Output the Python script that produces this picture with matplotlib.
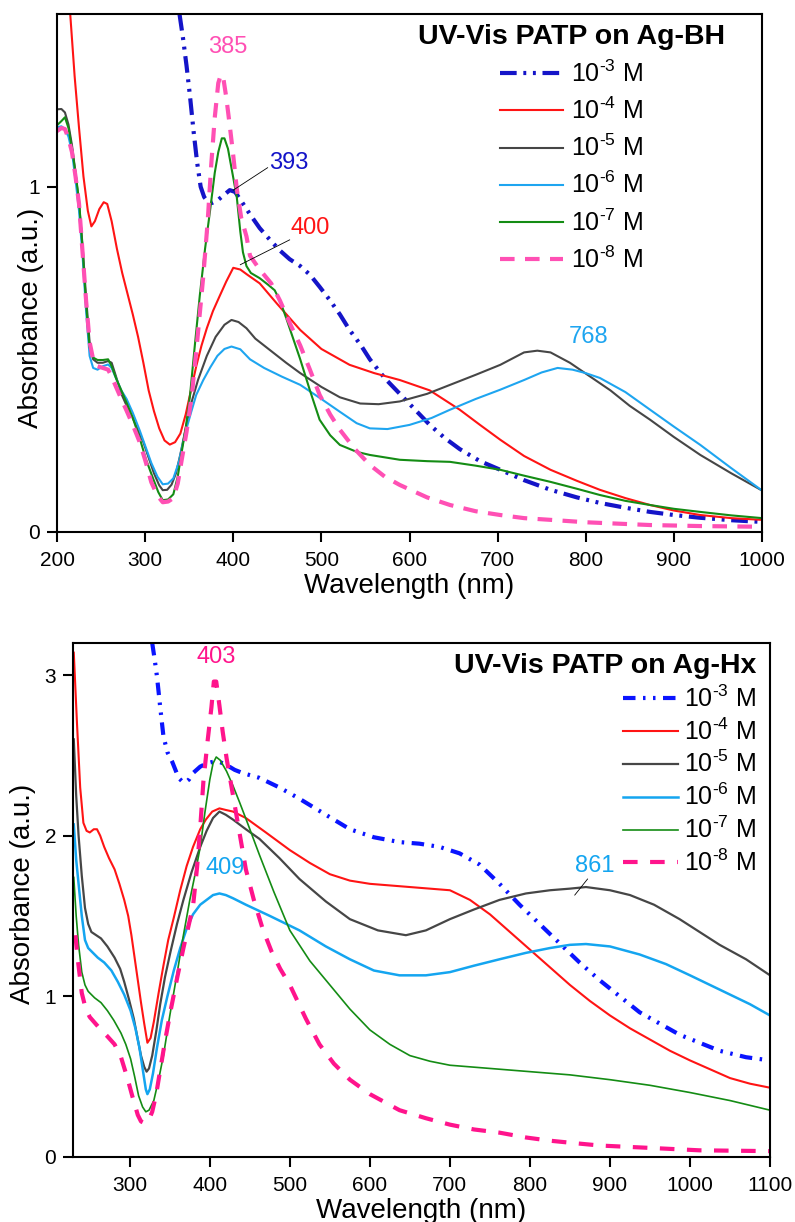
import matplotlib
matplotlib.use("Agg")
import matplotlib.pyplot as plt

plt.rcParams['font.family'] = ['Liberation Sans', 'DejaVu Sans']
plt.rcParams['mathtext.fontset'] = 'custom'
plt.rcParams['mathtext.rm'] = 'Liberation Sans'
plt.rcParams['mathtext.it'] = 'Liberation Sans'
plt.rcParams['mathtext.default'] = 'regular'

labels = ['10$^{\u20103}$ M', '10$^{\u20104}$ M', '10$^{\u20105}$ M',
          '10$^{\u20106}$ M', '10$^{\u20107}$ M', '10$^{\u20108}$ M']

# ---- Ag-BH (top panel), wavelength in nm / absorbance ----
bh_wl_3 = [339, 343, 347, 351, 355, 359, 363, 367, 371, 376, 382, 389, 396, 402, 410, 419, 430, 442, 453, 464, 476, 487, 498, 510, 521, 532, 545, 555, 572, 589, 606, 623, 640, 657, 680, 703, 730, 760, 790, 816, 845, 873, 900, 930, 965, 1000]
bh_ab_3 = [1.50, 1.43, 1.35, 1.26, 1.16, 1.07, 1.00, 0.97, 0.957, 0.953, 0.96, 0.975, 0.99, 0.985, 0.955, 0.92, 0.88, 0.845, 0.815, 0.79, 0.77, 0.745, 0.71, 0.67, 0.63, 0.585, 0.54, 0.50, 0.445, 0.40, 0.355, 0.31, 0.272, 0.24, 0.205, 0.18, 0.15, 0.122, 0.10, 0.084, 0.07, 0.058, 0.049, 0.041, 0.034, 0.029]

bh_wl_4 = [215, 220, 225, 230, 235, 239, 243, 248, 253, 257, 262, 268, 274, 280, 286, 292, 298, 304, 310, 316, 322, 328, 334, 340, 346, 352, 358, 364, 370, 377, 384, 392, 400, 408, 416, 430, 450, 476, 500, 532, 560, 589, 623, 657, 680, 703, 730, 760, 790, 816, 845, 873, 900, 930, 965, 1000]
bh_ab_4 = [1.50, 1.32, 1.17, 1.03, 0.93, 0.885, 0.90, 0.935, 0.955, 0.95, 0.90, 0.82, 0.75, 0.69, 0.63, 0.565, 0.49, 0.41, 0.35, 0.30, 0.265, 0.253, 0.26, 0.285, 0.34, 0.41, 0.48, 0.54, 0.59, 0.64, 0.68, 0.725, 0.765, 0.76, 0.745, 0.72, 0.66, 0.585, 0.53, 0.484, 0.46, 0.44, 0.41, 0.354, 0.31, 0.267, 0.22, 0.18, 0.148, 0.122, 0.098, 0.078, 0.062, 0.049, 0.04, 0.035]

bh_wl_5 = [200, 205, 209, 213, 217, 221, 225, 229, 233, 237, 241, 246, 252, 258, 262, 267, 273, 280, 286, 292, 298, 304, 310, 316, 320, 325, 330, 335, 340, 346, 352, 360, 370, 380, 390, 398, 406, 415, 425, 440, 460, 476, 500, 521, 544, 565, 589, 620, 646, 675, 703, 730, 745, 760, 782, 805, 828, 850, 873, 900, 930, 965, 1000]
bh_ab_5 = [1.224, 1.225, 1.215, 1.18, 1.12, 1.04, 0.95, 0.83, 0.68, 0.55, 0.50, 0.49, 0.49, 0.495, 0.49, 0.45, 0.40, 0.36, 0.33, 0.295, 0.26, 0.215, 0.17, 0.135, 0.121, 0.122, 0.137, 0.17, 0.225, 0.30, 0.37, 0.44, 0.51, 0.565, 0.60, 0.614, 0.608, 0.59, 0.56, 0.53, 0.49, 0.46, 0.42, 0.39, 0.372, 0.37, 0.378, 0.40, 0.426, 0.455, 0.484, 0.52, 0.525, 0.52, 0.49, 0.45, 0.41, 0.365, 0.325, 0.275, 0.223, 0.17, 0.12]

bh_wl_6 = [200, 205, 209, 213, 217, 221, 225, 229, 233, 237, 241, 246, 252, 258, 262, 267, 273, 279, 286, 294, 300, 307, 314, 320, 326, 332, 338, 345, 352, 358, 366, 374, 382, 390, 398, 408, 419, 435, 455, 476, 500, 521, 540, 555, 575, 600, 625, 646, 675, 703, 730, 750, 768, 785, 800, 816, 845, 873, 900, 930, 965, 1000]
bh_ab_6 = [1.172, 1.175, 1.167, 1.145, 1.10, 1.02, 0.93, 0.80, 0.64, 0.51, 0.475, 0.47, 0.48, 0.485, 0.475, 0.445, 0.41, 0.385, 0.345, 0.293, 0.25, 0.20, 0.16, 0.138, 0.14, 0.155, 0.20, 0.282, 0.345, 0.397, 0.44, 0.477, 0.51, 0.53, 0.537, 0.529, 0.50, 0.475, 0.45, 0.426, 0.385, 0.348, 0.315, 0.30, 0.298, 0.31, 0.33, 0.354, 0.385, 0.412, 0.44, 0.462, 0.475, 0.47, 0.46, 0.446, 0.405, 0.354, 0.305, 0.252, 0.185, 0.12]

bh_wl_7 = [200, 205, 209, 213, 217, 221, 225, 229, 233, 237, 241, 246, 252, 258, 262, 267, 273, 279, 286, 294, 301, 309, 315, 320, 326, 332, 337, 341, 346, 351, 356, 362, 368, 374, 379, 383, 387, 390, 394, 399, 404, 408, 411, 415, 420, 430, 440, 447, 453, 460, 468, 476, 487, 498, 510, 521, 540, 555, 589, 620, 646, 675, 703, 730, 760, 790, 816, 845, 873, 900, 930, 965, 1000]
bh_ab_7 = [1.178, 1.19, 1.201, 1.17, 1.11, 1.04, 0.96, 0.82, 0.66, 0.534, 0.505, 0.498, 0.498, 0.50, 0.48, 0.445, 0.41, 0.374, 0.33, 0.27, 0.21, 0.155, 0.115, 0.092, 0.094, 0.109, 0.16, 0.224, 0.30, 0.397, 0.53, 0.684, 0.82, 0.937, 1.04, 1.10, 1.14, 1.14, 1.11, 1.04, 0.97, 0.87, 0.81, 0.77, 0.75, 0.735, 0.715, 0.70, 0.67, 0.62, 0.56, 0.50, 0.41, 0.325, 0.28, 0.252, 0.232, 0.223, 0.209, 0.205, 0.203, 0.192, 0.18, 0.163, 0.145, 0.125, 0.107, 0.09, 0.078, 0.067, 0.058, 0.048, 0.04]

bh_wl_8 = [200, 205, 209, 213, 217, 221, 225, 229, 233, 237, 241, 246, 252, 258, 262, 267, 273, 279, 286, 294, 301, 307, 314, 320, 326, 332, 337, 341, 347, 353, 359, 366, 371, 375, 379, 383, 386, 389, 392, 396, 400, 404, 409, 415, 419, 430, 443, 453, 465, 476, 487, 498, 510, 521, 538, 555, 572, 589, 620, 646, 675, 703, 730, 760, 800, 873, 930, 1000]
bh_ab_8 = [1.161, 1.17, 1.167, 1.14, 1.10, 1.03, 0.95, 0.81, 0.67, 0.55, 0.50, 0.48, 0.475, 0.47, 0.45, 0.42, 0.385, 0.351, 0.31, 0.259, 0.20, 0.144, 0.105, 0.086, 0.088, 0.098, 0.14, 0.201, 0.29, 0.397, 0.55, 0.741, 0.90, 1.063, 1.20, 1.30, 1.325, 1.31, 1.26, 1.178, 1.09, 0.994, 0.91, 0.856, 0.80, 0.76, 0.72, 0.67, 0.60, 0.54, 0.47, 0.397, 0.34, 0.296, 0.24, 0.194, 0.16, 0.136, 0.10, 0.078, 0.06, 0.049, 0.04, 0.035, 0.028, 0.02, 0.017, 0.015]

# ---- Ag-Hx (bottom panel) ----
hx_wl_3 = [328, 331, 334, 338, 342, 347, 353, 361, 365, 369, 374, 379, 388, 396, 404, 412, 421, 431, 441, 462, 487, 512, 545, 575, 605, 637, 662, 687, 712, 737, 762, 787, 812, 837, 862, 887, 912, 937, 962, 987, 1012, 1037, 1070, 1100]
hx_ab_3 = [3.20, 3.10, 2.99, 2.80, 2.62, 2.52, 2.46, 2.36, 2.34, 2.33, 2.35, 2.39, 2.43, 2.45, 2.46, 2.46, 2.44, 2.41, 2.39, 2.36, 2.30, 2.23, 2.13, 2.04, 1.99, 1.96, 1.95, 1.93, 1.89, 1.82, 1.70, 1.57, 1.45, 1.33, 1.21, 1.10, 1.00, 0.90, 0.83, 0.76, 0.71, 0.66, 0.62, 0.60]

hx_wl_4 = [230, 234, 238, 242, 246, 250, 255, 259, 263, 268, 274, 281, 287, 293, 298, 302, 306, 310, 314, 318, 322, 326, 330, 336, 342, 348, 355, 363, 371, 379, 388, 395, 403, 412, 420, 429, 445, 470, 500, 525, 550, 575, 600, 650, 700, 725, 750, 775, 800, 825, 850, 875, 900, 925, 950, 975, 1000, 1025, 1050, 1075, 1100]
hx_ab_4 = [3.14, 2.70, 2.30, 2.08, 2.03, 2.02, 2.04, 2.04, 2.00, 1.93, 1.86, 1.79, 1.70, 1.60, 1.50, 1.38, 1.24, 1.10, 0.96, 0.83, 0.71, 0.74, 0.84, 1.02, 1.19, 1.35, 1.49, 1.66, 1.81, 1.93, 2.04, 2.10, 2.15, 2.17, 2.16, 2.15, 2.11, 2.02, 1.91, 1.83, 1.76, 1.72, 1.70, 1.68, 1.66, 1.60, 1.51, 1.40, 1.29, 1.18, 1.07, 0.97, 0.88, 0.80, 0.73, 0.66, 0.60, 0.545, 0.49, 0.455, 0.43]

hx_wl_5 = [230, 233, 236, 240, 244, 248, 252, 258, 264, 272, 281, 288, 293, 299, 305, 310, 314, 318, 321, 324, 328, 333, 338, 344, 351, 359, 367, 377, 388, 396, 404, 412, 420, 429, 445, 462, 487, 512, 545, 575, 610, 645, 670, 700, 730, 762, 795, 825, 850, 870, 900, 925, 955, 987, 1012, 1037, 1070, 1100]
hx_ab_5 = [2.60, 2.25, 2.00, 1.75, 1.55, 1.45, 1.40, 1.38, 1.36, 1.31, 1.24, 1.17, 1.09, 0.98, 0.86, 0.73, 0.63, 0.56, 0.53, 0.55, 0.63, 0.78, 0.95, 1.12, 1.28, 1.45, 1.60, 1.77, 1.93, 2.03, 2.11, 2.15, 2.13, 2.10, 2.04, 1.98, 1.86, 1.73, 1.59, 1.48, 1.41, 1.38, 1.41, 1.48, 1.54, 1.60, 1.64, 1.66, 1.67, 1.68, 1.66, 1.63, 1.57, 1.48, 1.40, 1.32, 1.23, 1.13]

hx_wl_6 = [230, 233, 236, 240, 244, 248, 252, 260, 268, 277, 285, 293, 301, 307, 312, 316, 320, 322, 325, 329, 334, 340, 347, 355, 363, 371, 379, 388, 396, 404, 412, 420, 429, 445, 475, 512, 545, 575, 605, 637, 670, 700, 730, 762, 795, 825, 850, 870, 900, 937, 970, 1000, 1025, 1050, 1075, 1100]
hx_ab_6 = [2.07, 1.85, 1.70, 1.50, 1.35, 1.30, 1.28, 1.24, 1.21, 1.16, 1.09, 1.01, 0.91, 0.80, 0.68, 0.55, 0.42, 0.39, 0.42, 0.52, 0.68, 0.85, 1.00, 1.16, 1.30, 1.42, 1.51, 1.57, 1.60, 1.63, 1.64, 1.63, 1.61, 1.57, 1.50, 1.41, 1.31, 1.23, 1.16, 1.13, 1.13, 1.15, 1.19, 1.23, 1.27, 1.30, 1.32, 1.325, 1.31, 1.26, 1.20, 1.13, 1.07, 1.01, 0.95, 0.88]

hx_wl_7 = [230, 233, 236, 240, 244, 248, 256, 264, 272, 280, 289, 295, 301, 306, 311, 316, 320, 324, 330, 336, 342, 350, 359, 367, 375, 382, 388, 394, 400, 404, 408, 413, 421, 429, 437, 447, 462, 480, 500, 525, 550, 575, 600, 625, 650, 675, 700, 750, 800, 850, 900, 950, 1000, 1050, 1100]
hx_ab_7 = [1.74, 1.50, 1.32, 1.15, 1.07, 1.03, 0.99, 0.96, 0.91, 0.85, 0.77, 0.70, 0.61, 0.50, 0.38, 0.31, 0.28, 0.29, 0.35, 0.48, 0.63, 0.88, 1.14, 1.38, 1.60, 1.77, 1.93, 2.15, 2.35, 2.45, 2.49, 2.47, 2.40, 2.31, 2.21, 2.08, 1.88, 1.65, 1.41, 1.22, 1.07, 0.92, 0.79, 0.70, 0.63, 0.595, 0.57, 0.55, 0.53, 0.51, 0.48, 0.445, 0.40, 0.35, 0.29]

hx_wl_8 = [232, 235, 240, 245, 250, 257, 264, 272, 281, 289, 297, 303, 310, 314, 318, 323, 328, 333, 338, 344, 351, 359, 367, 373, 379, 384, 388, 392, 397, 402, 405, 408, 412, 416, 421, 429, 437, 445, 455, 466, 477, 488, 500, 520, 537, 555, 575, 600, 637, 670, 700, 730, 762, 795, 825, 855, 887, 950, 1012, 1100]
hx_ab_8 = [1.38, 1.23, 1.02, 0.92, 0.87, 0.83, 0.79, 0.75, 0.70, 0.62, 0.49, 0.38, 0.26, 0.22, 0.21, 0.22, 0.28, 0.39, 0.54, 0.72, 0.91, 1.11, 1.30, 1.43, 1.56, 1.80, 2.05, 2.34, 2.58, 2.80, 2.96, 2.96, 2.81, 2.65, 2.48, 2.25, 2.02, 1.79, 1.60, 1.42, 1.28, 1.17, 1.07, 0.86, 0.70, 0.58, 0.48, 0.39, 0.29, 0.24, 0.20, 0.17, 0.15, 0.12, 0.10, 0.085, 0.07, 0.055, 0.04, 0.035]

bh_colors = ['#1414c8', '#ff1414', '#464646', '#1ea5f0', '#148c14', '#ff50b4']
hx_colors = ['#0a14ff', '#ff1414', '#464646', '#14a5f0', '#148c14', '#ff148c']

fig = plt.figure(figsize=(7.95, 12.22), dpi=100)
ax1 = fig.add_axes([0.0717, 0.5647, 0.8868, 0.4238])
ax2 = fig.add_axes([0.0918, 0.0534, 0.8768, 0.4204])

bh_data = [(bh_wl_3, bh_ab_3), (bh_wl_4, bh_ab_4), (bh_wl_5, bh_ab_5),
           (bh_wl_6, bh_ab_6), (bh_wl_7, bh_ab_7), (bh_wl_8, bh_ab_8)]
hx_data = [(hx_wl_3, hx_ab_3), (hx_wl_4, hx_ab_4), (hx_wl_5, hx_ab_5),
           (hx_wl_6, hx_ab_6), (hx_wl_7, hx_ab_7), (hx_wl_8, hx_ab_8)]

bh_styles = [dict(lw=3, dashes=(4, 1.6, 0.7, 1.6, 0.7, 1.6)),
             dict(lw=1.5), dict(lw=1.5), dict(lw=1.5), dict(lw=1.5),
             dict(lw=3, dashes=(3.5, 2.5))]
hx_styles = [dict(lw=3, dashes=(3, 1.8, 0.6, 1.8, 0.6, 1.8)),
             dict(lw=1.5), dict(lw=1.6), dict(lw=1.8), dict(lw=1.2),
             dict(lw=3, dashes=(3.5, 3))]

for (wl, ab), c, st, lab in zip(bh_data, bh_colors, bh_styles, labels):
    ax1.plot(wl, ab, color=c, label=lab, solid_joinstyle='round', **st)
for (wl, ab), c, st, lab in zip(hx_data, hx_colors, hx_styles, labels):
    ax2.plot(wl, ab, color=c, label=lab, solid_joinstyle='round', **st)

ax1.set_xlim(200, 1000)
ax1.set_ylim(0, 1.5)
ax1.set_xticks(range(200, 1001, 100))
ax1.set_yticks([0, 1])
ax2.set_xlim(229, 1100)
ax2.set_ylim(0, 3.2)
ax2.set_xticks(range(300, 1101, 100))
ax2.set_yticks([0, 1, 2, 3])

for ax in (ax1, ax2):
    for s in ax.spines.values():
        s.set_linewidth(1.5)
    ax.tick_params(direction='out', length=7, width=1.5, labelsize=15)
    ax.tick_params(axis='x', pad=7)
    ax.tick_params(axis='y', pad=5)
    ax.set_xlabel('Wavelength (nm)', fontsize=20, labelpad=2)
    ax.set_ylabel('Absorbance (a.u.)', fontsize=20)

# y labels sit a little off-centre in the original
ax1.yaxis.set_label_coords(-0.018, 0.413)
ax2.yaxis.set_label_coords(-0.053, 0.511)

# peak labels
ax1.text(394, 1.406, '385', color=bh_colors[5], fontsize=17, ha='center', va='center')
ax1.text(463, 1.07, '393', color=bh_colors[0], fontsize=17, ha='center', va='center')
ax1.plot([439, 400], [1.055, 0.99], color='k', lw=0.6)
ax1.text(487, 0.881, '400', color=bh_colors[1], fontsize=17, ha='center', va='center')
ax1.plot([464, 408], [0.846, 0.774], color='k', lw=0.6)
ax1.text(803, 0.565, '768', color=bh_colors[3], fontsize=17, ha='center', va='center')

ax2.text(407.5, 3.11, '403', color=hx_colors[5], fontsize=17, ha='center', va='center')
ax2.text(419, 1.80, '409', color=hx_colors[3], fontsize=17, ha='center', va='center')
ax2.text(881, 1.81, '861', color=hx_colors[3], fontsize=17, ha='center', va='center')
ax2.plot([872, 856], [1.73, 1.63], color='k', lw=0.6)

leg1 = ax1.legend(loc='upper right', bbox_to_anchor=(0.948, 0.981), frameon=False,
                  fontsize=18, title='UV-Vis PATP on Ag-BH',
                  title_fontproperties={'size': 20.5, 'weight': 'bold'},
                  handlelength=2.5, handletextpad=0.33, labelspacing=0.43,
                  borderpad=0, borderaxespad=0)
leg2 = ax2.legend(loc='upper right', bbox_to_anchor=(0.98, 0.981), frameon=False,
                  fontsize=18, title='UV-Vis PATP on Ag-Hx',
                  title_fontproperties={'size': 20.5, 'weight': 'bold'},
                  handlelength=2.2, handletextpad=0.25, labelspacing=0.26,
                  borderpad=0, borderaxespad=0, alignment='right')

fig.savefig('out.png', dpi=100)
